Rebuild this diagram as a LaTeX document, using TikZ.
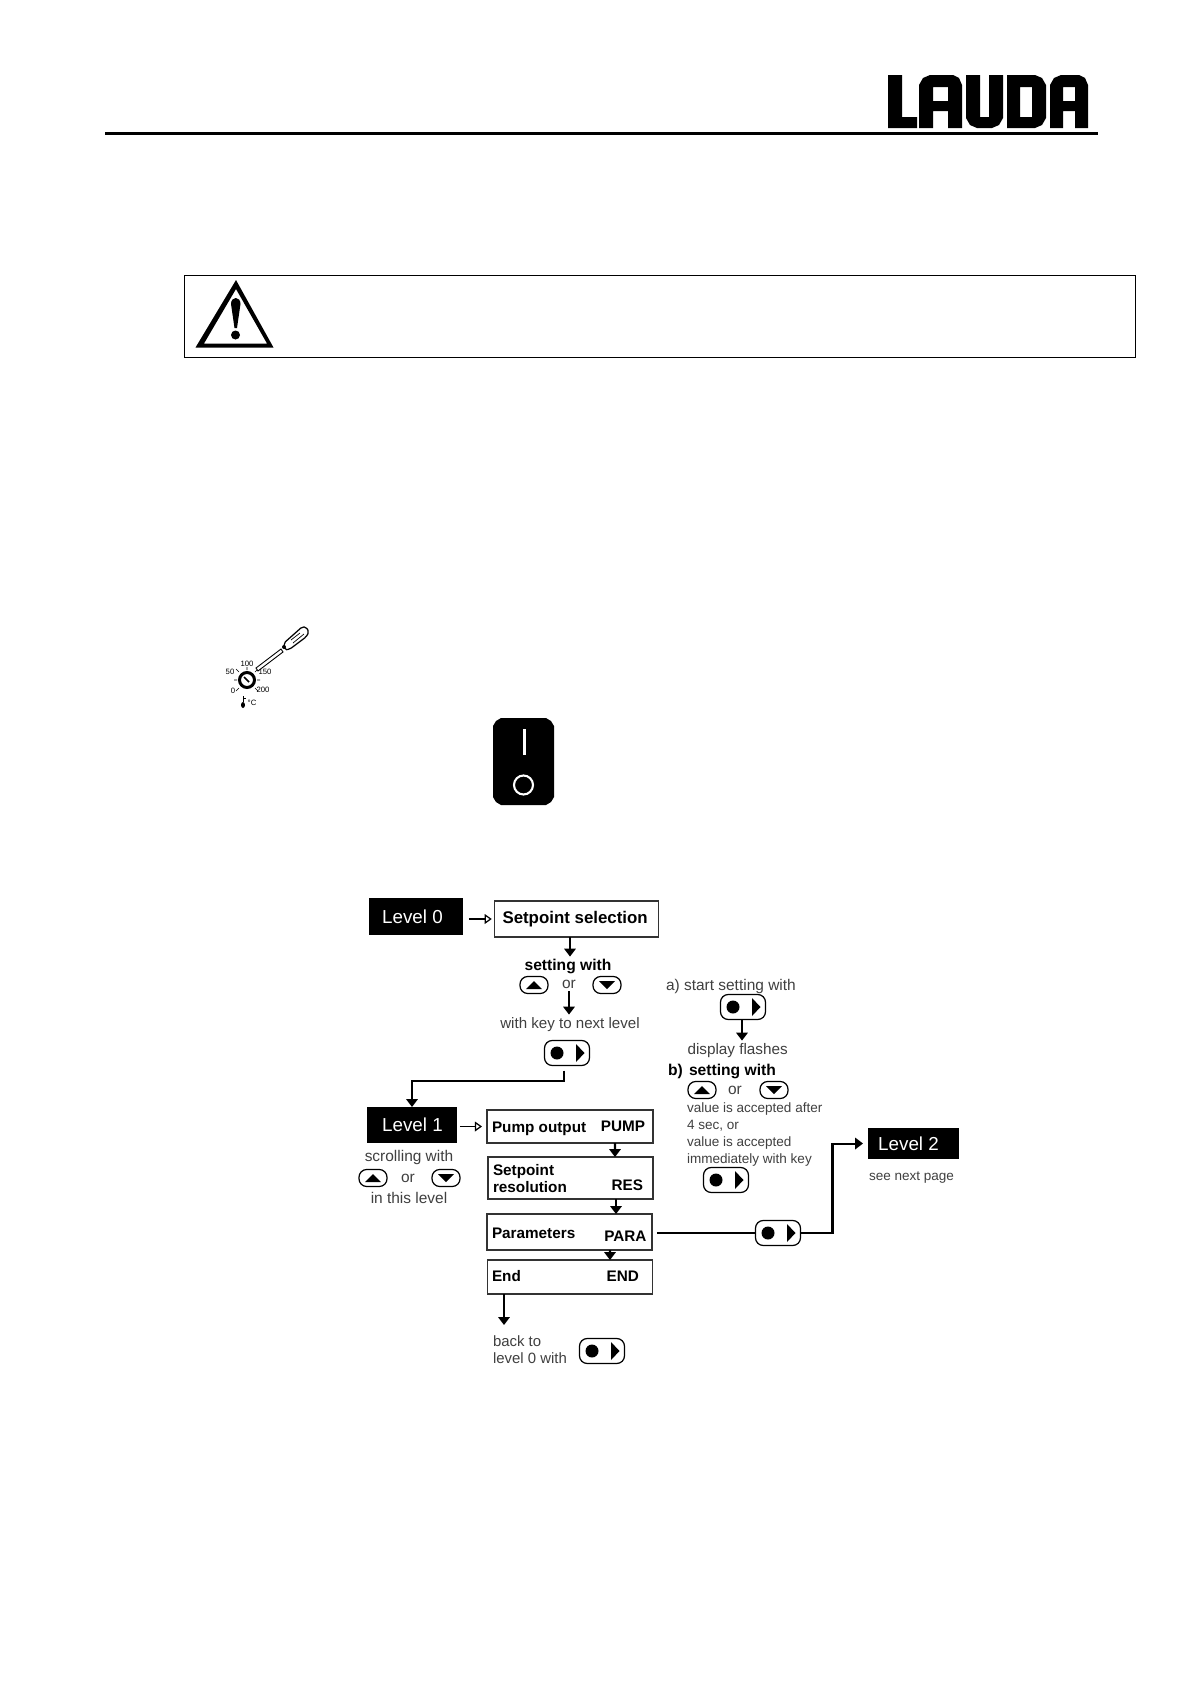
\documentclass[tikz,border=0pt]{standalone}
\usepackage{fontspec}
\setmainfont{Liberation Sans}
\usetikzlibrary{arrows.meta,shapes.geometric}
\definecolor{txt}{gray}{0.25}
\def\px{0.02cm}
\tikzset{
  arr/.style={line width=1.15pt,-{Triangle[width=6.5pt,length=4.5pt]}},
  openarr/.style={line width=0.7pt,-{Triangle[open,width=5.5pt,length=4pt,fill=white]}},
  plain/.style={line width=1.05pt},
  boxn/.style={draw=black!80,line width=0.6pt,inner sep=0,outer sep=0,fill=white},
  lvl/.style={fill=black,text=white,inner sep=0,outer sep=0,font=\fontsize{10.7pt}{12pt}\selectfont},
  t/.style={inner sep=0,outer sep=0,text=txt,text height=0.8em,text depth=0.16em,font=\fontsize{#1}{10pt}\selectfont},
  tb/.style={inner sep=0,outer sep=0,text=black,text height=0.8em,text depth=0.16em,font=\fontsize{#1}{10pt}\selectfont\bfseries},
  entrykey/.style={draw=black,line width=0.7pt,rounded corners=4.4pt,minimum width=0.9cm,minimum height=0.5cm,inner sep=0,outer sep=0},
  arrowkey/.style={draw=black,line width=0.7pt,rounded corners=4.4pt,minimum width=0.56cm,minimum height=0.34cm,inner sep=0,outer sep=0},
  dial/.style={inner sep=0,outer sep=0,font=\fontsize{4.4pt}{5pt}\selectfont},
}
\newcommand\enterkey[2]{\node[entrykey] (#1) at (#2) {};
  \fill (#1.center) ++(-10,0) circle[radius=6.5];
  \fill (#1.center) ++(9,-9) -- ++(0,18) -- ++(8.5,-9) -- cycle;}
\newcommand\upkey[2]{\node[arrowkey] (#1) at (#2) {};
  \fill (#1.center) ++(-8,4) -- ++(16,0) -- ++(-8,-8) -- cycle;}
\newcommand\downkey[2]{\node[arrowkey] (#1) at (#2) {};
  \fill (#1.center) ++(-8,-4) -- ++(16,0) -- ++(-8,8) -- cycle;}
\begin{document}
\begin{tikzpicture}[x=0.02cm,y=-0.02cm]
\useasboundingbox[fill=white] (0,0) rectangle (1190,1684);
% header
\draw[line width=1.7pt] (105,133.5) -- (1098,133.5);
\begin{scope}[even odd rule]
\fill (888,75) -- (902,75) -- (902,117) -- (917,117) -- (917,128) -- (888,128) -- cycle;
\fill (919,128) -- (919,85) -- (923,78) -- (930,75) -- (953,75) -- (959,78) -- (962,85) -- (962,128) -- (948,128) -- (948,111) -- (933,111) -- (933,128) -- cycle (933,87) rectangle (948,101);
\fill (966,75) -- (980,75) -- (980,117) -- (989,117) -- (989,75) -- (1003,75) -- (1003,118) -- (999,125) -- (992,128) -- (977,128) -- (970,125) -- (966,118) -- cycle;
\fill (1007,75) -- (1035,75) -- (1042,78) -- (1046,85) -- (1046,118) -- (1042,125) -- (1035,128) -- (1007,128) -- cycle (1020,87) rectangle (1032,117);
\fill (1050,128) -- (1050,85) -- (1054,78) -- (1061,75) -- (1079,75) -- (1085,78) -- (1088,85) -- (1088,128) -- (1075,128) -- (1075,111) -- (1063,111) -- (1063,128) -- cycle (1063,87) rectangle (1075,101);
\end{scope}
% warning
\draw[line width=0.5pt] (184,275.5) rectangle (1135,357.5);
\fill[even odd rule] (236,280) -- (195.5,347.5) -- (273.5,347.5) -- cycle (236,289) -- (204,343.5) -- (267,343.5) -- cycle;
\fill (231,304) .. controls (231,296) and (240.5,296) .. (240.5,304) -- (237,328) -- (234.5,328) -- cycle;
\fill (235.5,335) circle[radius=4.5];
% screwdriver and dial
\draw[line width=1.7pt] (247,680) circle[radius=7.5];
\draw[line width=0.9pt] (244,677) -- (249,682);
\draw[line width=0.3pt] (247,670) -- (247,667) (239,672) -- (236,669) (255,672) -- (258,669) (237,680) -- (234,680) (257,680) -- (260,680) (239,688) -- (236,691) (255,688) -- (258,691);
\draw[line width=0.5pt,fill=white] (256,668) -- (281,649) -- (283,652) -- (258,671) -- cycle;
\draw[line width=0.7pt,fill=white,rounded corners=1pt] (284,643) -- (302,627) -- (306,627) -- (309,632) -- (306,637) -- (290,649) -- (285,650) -- cycle;
\draw[line width=0.4pt] (293,643) -- (304,634) (291,640) -- (300,633);
\fill (284,647) circle[radius=2];
\node[dial] (d100) at (247,664) {100};
\node[dial] (d50) at (230,672) {50};
\node[dial] (d150) at (265,672) {150};
\node[dial] (d0) at (233,691) {0};
\node[dial] (d200) at (263,690) {200};
\node[dial] (dc) at (252,703) {°C};
\draw[line width=0.4pt] (243,696) -- (243,702) (243,698) -- (246,698);
\fill (243,705) ellipse[x radius=2,y radius=3];
% switch
\fill (501,718) -- (546,718) -- (551,721) -- (554,726) -- (554,797) -- (551,802) -- (546,805) -- (501,805) -- (496,802) -- (493,797) -- (493,726) -- (496,721) -- cycle;
\fill[white] (522.5,729) rectangle (526,755);
\draw[white,line width=1.2pt] (523.5,785) circle[radius=9.5];
% Level 0
\node[lvl,minimum width=1.88cm,minimum height=0.74cm] (lvl0) at (416,916.5) {\hspace*{-0.14cm}Level 0};
\node[boxn,minimum width=3.27cm,minimum height=0.72cm] (sel) at (576.5,919) {};
\node[tb=9.6pt,anchor=west] (seltxt) at (502.5,918) {Setpoint selection};
\draw[openarr] ([xshift=6*\px]lvl0.east |- sel.west) -- ([xshift=-3*\px]sel.west);
\node[tb=8.9pt] (setw) at (568,965) {setting with};
\upkey{u0}{534,985}
\node[t=8.8pt] (or0) at (569,983) {or};
\downkey{d0key}{607,985}
\draw[arr] ([xshift=-6.5*\px]sel.south) -- ([xshift=-6.5*\px]sel.south |- setw.north);
\node[t=8.6pt] (nextl) at (570,1023) {with key to next level};
\draw[arr] (or0.south) -- (or0.south |- nextl.north);
\enterkey{k0}{567,1053}
% Level 1
\node[lvl,minimum width=1.8cm,minimum height=0.72cm] (lvl1) at (412,1125) {\hspace*{0.02cm}Level 1};
\draw[arr] ([xshift=-3*\px,yshift=-5*\px]k0.south) -- ++(0,10) -| (lvl1.north);
\node[boxn,minimum width=3.32cm,minimum height=0.66cm] (pump) at (570,1126.5) {};
\draw[openarr] ([xshift=3*\px]lvl1.east |- pump.west) -- ([xshift=-5*\px]pump.west);
\node[tb=8.7pt,anchor=west] (pumpl) at (492,1127) {Pump output};
\node[tb=8.7pt,anchor=east] (pumpr) at (645,1126) {PUMP};
\node[boxn,minimum width=3.3cm,minimum height=0.84cm] (res) at (570.5,1178) {};
\node[tb=8.7pt,anchor=west] (resl1) at (493,1170) {Setpoint};
\node[tb=8.7pt,anchor=west] (resl2) at (493,1187) {resolution};
\node[tb=8.7pt,anchor=east] (resr) at (643,1185) {RES};
\draw[arr] ([xshift=45*\px]pump.south) -- ([xshift=44.5*\px]res.north);
\node[boxn,minimum width=3.3cm,minimum height=0.72cm] (para) at (569.5,1232) {};
\node[tb=8.7pt,anchor=west] (paral) at (492,1233) {Parameters};
\node[tb=8.7pt,anchor=east] (parar) at (646.5,1236) {PARA};
\draw[arr] ([xshift=45.5*\px]res.south) -- ([xshift=46.5*\px]para.north);
\node[boxn,minimum width=3.29cm,minimum height=0.68cm] (endb) at (570,1277) {};
\node[tb=8.7pt,anchor=west] (endl) at (492,1276) {End};
\node[tb=8.7pt,anchor=east] (endr) at (639,1276) {END};
\draw[arr] ([xshift=40.5*\px]para.south) -- ([xshift=40*\px]endb.north);
\node[t=8.8pt] (scr) at (409,1156) {scrolling with};
\upkey{u1}{373,1178}
\node[t=8.8pt] (or1) at (408,1177) {or};
\downkey{d1key}{446,1178}
\node[t=8.8pt] (inl) at (409,1198) {in this level};
\node[t=8.5pt,anchor=west] (back1) at (493,1341) {back to};
\node[t=8.5pt,anchor=west] (back2) at (493,1358) {level 0 with};
\enterkey{k3}{602,1351}
\coordinate (backtip) at (504,1325);
\draw[arr] (endb.south -| backtip) -- (backtip);
% right column
\node[t=8.8pt,anchor=west] (ast) at (666,985) {a) start setting with};
\enterkey{k1}{743,1007}
\node[t=8.7pt,anchor=west] (flash) at (687.5,1049) {display flashes};
\draw[arr] ([xshift=-1*\px]k1.south) -- ([xshift=-1*\px]k1.south |- flash.north);
\node[tb=8.9pt,anchor=west] (bset) at (689,1070) {setting with};
\node[tb=8.9pt,anchor=west] (bb) at (668,1070) {b)};
\upkey{u2}{702,1090}
\node[t=8.8pt] (or2) at (735,1089) {or};
\downkey{d2key}{774,1090}
\node[t=7.7pt,anchor=west] (v1) at (687,1107) {value is accepted after};
\node[t=7.7pt,anchor=west] (v2) at (687,1124) {4 sec, or};
\node[t=7.7pt,anchor=west] (v3) at (687,1141) {value is accepted};
\node[t=7.7pt,anchor=west] (v4) at (687,1158) {immediately with key};
\enterkey{k2}{726,1180}
\node[lvl,minimum width=1.82cm,minimum height=0.62cm] (lvl2) at (913.5,1143.5) {\hspace*{-0.2cm}Level 2};
\node[t=7.7pt,anchor=west] (nextp) at (869,1175) {see next page};
\enterkey{k4}{778,1233}
\draw[plain] ([xshift=5*\px]para.east |- k4.west) -- (k4.west);
\draw[arr] (k4.east) -- ++(32,0) |- ([xshift=-5*\px]lvl2.west);
\end{tikzpicture}
\end{document}
